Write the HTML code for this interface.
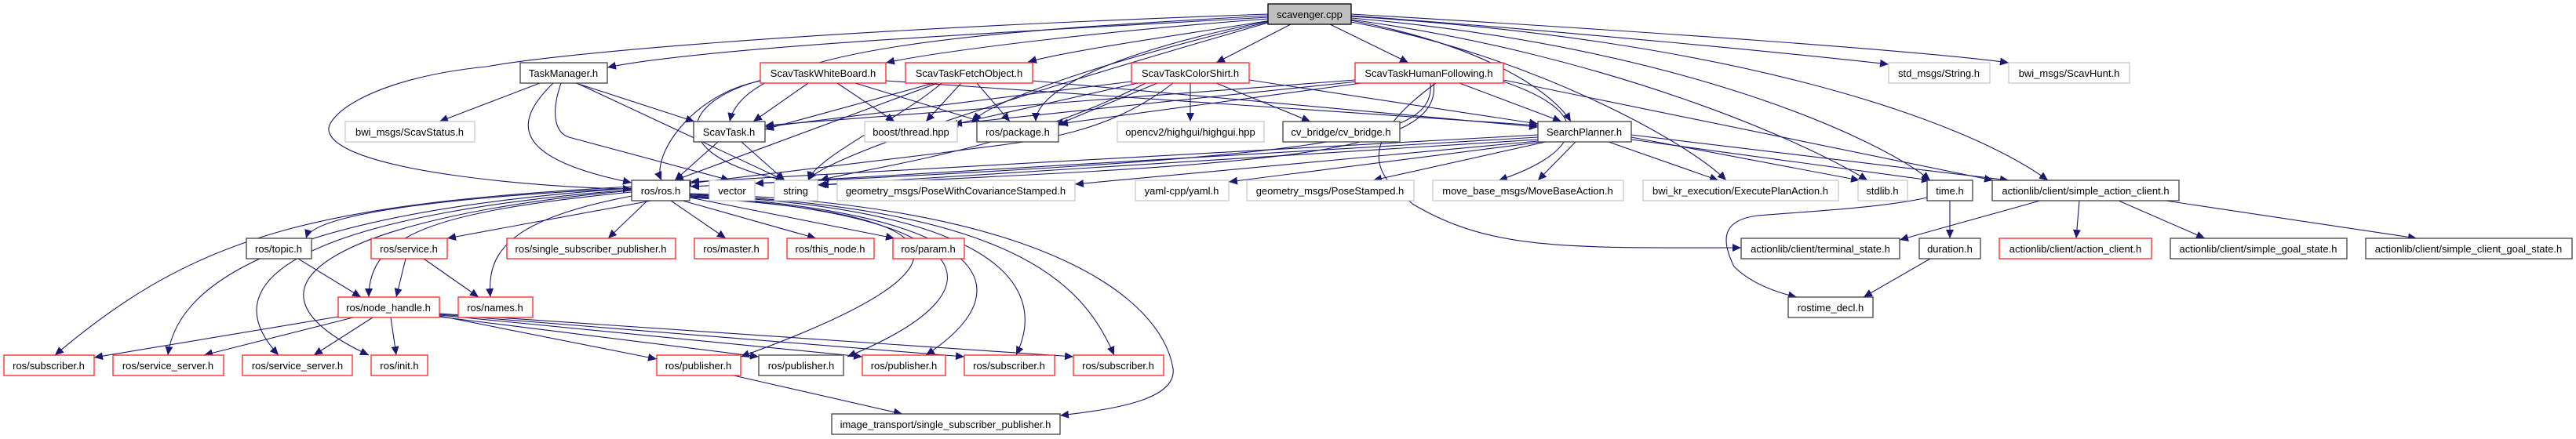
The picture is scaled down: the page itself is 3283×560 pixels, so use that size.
<!DOCTYPE html>
<html><head><meta charset="utf-8"><style>
html,body{margin:0;padding:0;background:#fff;}
svg{display:block;}
text{font-family:"Liberation Sans",Arial,sans-serif;font-size:13px;fill:#000;}
.e{fill:none;stroke:#191970;stroke-width:1.1;marker-end:url(#a);}
.b{fill:#fff;stroke:#404040;stroke-width:1.3;}
.r{fill:#fff;stroke:#ff2020;stroke-width:1.3;}
.g{fill:#fff;stroke:#c8c8c8;stroke-width:1.3;}
</style></head><body>
<svg width="3283" height="560" viewBox="0 0 3283 560" xmlns="http://www.w3.org/2000/svg">
<defs><marker id="a" markerUnits="userSpaceOnUse" markerWidth="12" markerHeight="10" refX="11" refY="5" orient="auto"><path d="M0,0 L11,5 L0,10 z" fill="#191970"/></marker></defs>
<g>
<path class="e" d="M1616,22 C1300,40 900,60 774,86"/>
<path class="e" d="M1616,24 C1400,40 1200,65 1129,80"/>
<path class="e" d="M1620,26 C1500,45 1360,65 1310,79"/>
<path class="e" d="M1645,31 L1550,80"/>
<path class="e" d="M1695,31 L1795,80"/>
<path class="e" d="M1616,20 C1250,40 950,60 930,155"/>
<path class="e" d="M1616,27 C1400,70 1320,120 1320,155"/>
<path class="e" d="M1616,28 C1400,80 1260,130 1240,155"/>
<path class="e" d="M1722,26 C1900,60 1980,120 2002,155"/>
<path class="e" d="M1722,20 C2000,40 2300,70 2407,82"/>
<path class="e" d="M1722,18 C2100,40 2450,65 2560,80"/>
<path class="e" d="M1616,18 C1000,40 700,70 620,85 C470,100 410,150 420,170 C440,220 700,240 805,241"/>
<path class="e" d="M1722,28 C1950,70 2150,180 2200,230"/>
<path class="e" d="M1722,25 C2050,70 2300,180 2380,230"/>
<path class="e" d="M1722,23 C2150,60 2400,180 2460,230"/>
<path class="e" d="M1722,21 C2200,50 2500,150 2610,230"/>
<path class="e" d="M1616,29 C1300,120 1050,200 1030,230"/>
<path class="e" d="M688,106 L560,155"/>
<path class="e" d="M734,106 L885,155"/>
<path class="e" d="M705,106 C660,150 640,200 805,233"/>
<path class="e" d="M715,106 C700,150 710,170 725,175 L930,230"/>
<path class="e" d="M735,106 L1000,230"/>
<path class="e" d="M1030,106 L960,155"/>
<path class="e" d="M1067,106 L1140,155"/>
<path class="e" d="M1090,106 L1250,155"/>
<path class="e" d="M970,103 C880,120 830,200 843,230"/>
<path class="e" d="M975,101 C860,130 850,200 1000,230"/>
<path class="e" d="M1129,103 L1960,160"/>
<path class="e" d="M1190,106 L975,165"/>
<path class="e" d="M1225,106 L1180,155"/>
<path class="e" d="M1245,106 L1287,155"/>
<path class="e" d="M1195,106 L860,230"/>
<path class="e" d="M1200,106 C1150,150 1040,200 1030,230"/>
<path class="e" d="M1316,103 L1960,162"/>
<path class="e" d="M1442,104 L975,162"/>
<path class="e" d="M1450,106 L1210,160"/>
<path class="e" d="M1475,106 L1345,160"/>
<path class="e" d="M1517,106 L1517,155"/>
<path class="e" d="M1550,106 L1670,155"/>
<path class="e" d="M1495,106 C1400,180 1300,180 1200,195 L870,235"/>
<path class="e" d="M1460,106 C1300,190 1100,215 1045,230"/>
<path class="e" d="M1592,102 L1960,158"/>
<path class="e" d="M1727,102 L975,160"/>
<path class="e" d="M1730,104 L1215,158"/>
<path class="e" d="M1735,106 L1350,158"/>
<path class="e" d="M1860,106 L1990,155"/>
<path class="e" d="M1823,106 C1830,180 1700,200 880,238"/>
<path class="e" d="M1827,106 C1840,200 1600,210 1045,236"/>
<path class="e" d="M1916,104 C2050,150 2000,200 1910,230"/>
<path class="e" d="M1916,102 L2540,230"/>
<path class="e" d="M1830,106 C1700,200 1780,240 1800,260 C1900,320 2000,316 2219,316"/>
<path class="e" d="M915,181 L860,230"/>
<path class="e" d="M945,181 L1000,230"/>
<path class="e" d="M1960,172 L880,232"/>
<path class="e" d="M1960,175 L962,234"/>
<path class="e" d="M1960,178 L1042,236"/>
<path class="e" d="M1960,180 L1370,235"/>
<path class="e" d="M1965,181 L1566,232"/>
<path class="e" d="M1970,181 L1750,230"/>
<path class="e" d="M2008,181 L1960,230"/>
<path class="e" d="M2050,181 L2190,230"/>
<path class="e" d="M2079,175 L2370,230"/>
<path class="e" d="M2079,178 L2460,230"/>
<path class="e" d="M2079,172 L2560,230"/>
<path class="e" d="M805,240 C600,250 400,270 390,304"/>
<path class="e" d="M830,256 L570,304"/>
<path class="e" d="M825,256 L775,304"/>
<path class="e" d="M855,256 L925,304"/>
<path class="e" d="M870,256 L1040,304"/>
<path class="e" d="M879,252 L1140,304"/>
<path class="e" d="M805,245 C550,270 470,300 470,379"/>
<path class="e" d="M805,250 C650,280 620,320 625,379"/>
<path class="e" d="M805,238 C400,260 250,300 70,453"/>
<path class="e" d="M805,240 C450,265 230,330 214,453"/>
<path class="e" d="M805,242 C450,270 250,340 355,453"/>
<path class="e" d="M805,243 C450,275 270,360 470,453"/>
<path class="e" d="M879,252 C1200,270 1290,330 944,455"/>
<path class="e" d="M879,251 C1220,270 1310,360 1080,455"/>
<path class="e" d="M879,250 C1240,270 1320,360 1180,453"/>
<path class="e" d="M879,249 C1260,265 1340,360 1295,453"/>
<path class="e" d="M879,248 C1290,265 1380,360 1420,453"/>
<path class="e" d="M879,247 C1330,260 1480,380 1495,470 C1500,510 1420,522 1351,530"/>
<path class="e" d="M380,330 L460,379"/>
<path class="e" d="M517,330 L505,379"/>
<path class="e" d="M540,330 L610,379"/>
<path class="e" d="M431,404 L120,456"/>
<path class="e" d="M450,405 L260,453"/>
<path class="e" d="M475,405 L400,453"/>
<path class="e" d="M498,405 L505,453"/>
<path class="e" d="M560,403 L837,458"/>
<path class="e" d="M560,404 L967,455"/>
<path class="e" d="M560,402 L1099,455"/>
<path class="e" d="M560,401 L1229,455"/>
<path class="e" d="M560,400 L1368,455"/>
<path class="e" d="M935,479 L1150,528"/>
<path class="e" d="M2600,256 L2421,306"/>
<path class="e" d="M2650,256 L2646,304"/>
<path class="e" d="M2700,256 L2810,304"/>
<path class="e" d="M2760,256 L3080,304"/>
<path class="e" d="M2485,256 L2485,304"/>
<path class="e" d="M2456,252 C2400,265 2300,270 2240,275 C2200,280 2190,300 2210,340 C2230,360 2260,372 2290,379"/>
<path class="e" d="M2460,330 L2375,379"/>
</g>
<g>
<rect x="1616" y="5" width="106" height="26" fill="#bfbfbf" stroke="#000" stroke-width="1.3"/><text x="1669" y="23" text-anchor="middle">scavenger.cpp</text>
<rect class="b" x="663" y="80" width="111" height="26"/><text x="718" y="98" text-anchor="middle">TaskManager.h</text>
<rect class="r" x="969" y="80" width="160" height="26"/><text x="1049" y="98" text-anchor="middle">ScavTaskWhiteBoard.h</text>
<rect class="r" x="1154" y="80" width="162" height="26"/><text x="1235" y="98" text-anchor="middle">ScavTaskFetchObject.h</text>
<rect class="r" x="1442" y="80" width="150" height="26"/><text x="1517" y="98" text-anchor="middle">ScavTaskColorShirt.h</text>
<rect class="r" x="1727" y="80" width="189" height="26"/><text x="1821" y="98" text-anchor="middle">ScavTaskHumanFollowing.h</text>
<rect class="g" x="2407" y="80" width="129" height="26"/><text x="2471" y="98" text-anchor="middle">std_msgs/String.h</text>
<rect class="g" x="2560" y="80" width="154" height="26"/><text x="2637" y="98" text-anchor="middle">bwi_msgs/ScavHunt.h</text>
<rect class="g" x="440" y="155" width="165" height="26"/><text x="522" y="173" text-anchor="middle">bwi_msgs/ScavStatus.h</text>
<rect class="b" x="884" y="155" width="91" height="26"/><text x="929" y="173" text-anchor="middle">ScavTask.h</text>
<rect class="g" x="1102" y="155" width="118" height="26"/><text x="1161" y="173" text-anchor="middle">boost/thread.hpp</text>
<rect class="b" x="1245" y="155" width="104" height="26"/><text x="1297" y="173" text-anchor="middle">ros/package.h</text>
<rect class="g" x="1424" y="155" width="187" height="26"/><text x="1517" y="173" text-anchor="middle">opencv2/highgui/highgui.hpp</text>
<rect class="b" x="1635" y="155" width="149" height="26"/><text x="1709" y="173" text-anchor="middle">cv_bridge/cv_bridge.h</text>
<rect class="b" x="1960" y="155" width="119" height="26"/><text x="2019" y="173" text-anchor="middle">SearchPlanner.h</text>
<rect class="b" x="805" y="230" width="74" height="26"/><text x="842" y="248" text-anchor="middle">ros/ros.h</text>
<rect class="g" x="904" y="230" width="58" height="26"/><text x="933" y="248" text-anchor="middle">vector</text>
<rect class="g" x="987" y="230" width="55" height="26"/><text x="1014" y="248" text-anchor="middle">string</text>
<rect class="g" x="1067" y="230" width="303" height="26"/><text x="1218" y="248" text-anchor="middle">geometry_msgs/PoseWithCovarianceStamped.h</text>
<rect class="g" x="1447" y="230" width="119" height="26"/><text x="1506" y="248" text-anchor="middle">yaml-cpp/yaml.h</text>
<rect class="g" x="1589" y="230" width="213" height="26"/><text x="1695" y="248" text-anchor="middle">geometry_msgs/PoseStamped.h</text>
<rect class="g" x="1826" y="230" width="243" height="26"/><text x="1947" y="248" text-anchor="middle">move_base_msgs/MoveBaseAction.h</text>
<rect class="g" x="2094" y="230" width="249" height="26"/><text x="2218" y="248" text-anchor="middle">bwi_kr_execution/ExecutePlanAction.h</text>
<rect class="g" x="2368" y="230" width="63" height="26"/><text x="2399" y="248" text-anchor="middle">stdlib.h</text>
<rect class="b" x="2456" y="230" width="58" height="26"/><text x="2485" y="248" text-anchor="middle">time.h</text>
<rect class="b" x="2539" y="230" width="238" height="26"/><text x="2658" y="248" text-anchor="middle">actionlib/client/simple_action_client.h</text>
<rect class="b" x="314" y="304" width="83" height="26"/><text x="355" y="322" text-anchor="middle">ros/topic.h</text>
<rect class="r" x="473" y="304" width="97" height="26"/><text x="521" y="322" text-anchor="middle">ros/service.h</text>
<rect class="r" x="646" y="304" width="215" height="26"/><text x="753" y="322" text-anchor="middle">ros/single_subscriber_publisher.h</text>
<rect class="r" x="885" y="304" width="94" height="26"/><text x="932" y="322" text-anchor="middle">ros/master.h</text>
<rect class="r" x="1003" y="304" width="111" height="26"/><text x="1058" y="322" text-anchor="middle">ros/this_node.h</text>
<rect class="r" x="1138" y="304" width="91" height="26"/><text x="1183" y="322" text-anchor="middle">ros/param.h</text>
<rect class="b" x="2219" y="304" width="202" height="26"/><text x="2320" y="322" text-anchor="middle">actionlib/client/terminal_state.h</text>
<rect class="b" x="2446" y="304" width="78" height="26"/><text x="2485" y="322" text-anchor="middle">duration.h</text>
<rect class="r" x="2548" y="304" width="194" height="26"/><text x="2645" y="322" text-anchor="middle">actionlib/client/action_client.h</text>
<rect class="b" x="2766" y="304" width="225" height="26"/><text x="2878" y="322" text-anchor="middle">actionlib/client/simple_goal_state.h</text>
<rect class="b" x="3015" y="304" width="263" height="26"/><text x="3146" y="322" text-anchor="middle">actionlib/client/simple_client_goal_state.h</text>
<rect class="r" x="431" y="379" width="129" height="26"/><text x="495" y="397" text-anchor="middle">ros/node_handle.h</text>
<rect class="r" x="584" y="379" width="95" height="26"/><text x="631" y="397" text-anchor="middle">ros/names.h</text>
<rect class="b" x="2279" y="379" width="108" height="26"/><text x="2333" y="397" text-anchor="middle">rostime_decl.h</text>
<rect class="r" x="5" y="453" width="115" height="26"/><text x="62" y="471" text-anchor="middle">ros/subscriber.h</text>
<rect class="r" x="144" y="453" width="141" height="26"/><text x="214" y="471" text-anchor="middle">ros/service_server.h</text>
<rect class="r" x="309" y="453" width="140" height="26"/><text x="379" y="471" text-anchor="middle">ros/service_server.h</text>
<rect class="r" x="473" y="453" width="72" height="26"/><text x="509" y="471" text-anchor="middle">ros/init.h</text>
<rect class="r" x="837" y="453" width="107" height="26"/><text x="890" y="471" text-anchor="middle">ros/publisher.h</text>
<rect class="b" x="967" y="453" width="108" height="26"/><text x="1021" y="471" text-anchor="middle">ros/publisher.h</text>
<rect class="r" x="1099" y="453" width="106" height="26"/><text x="1152" y="471" text-anchor="middle">ros/publisher.h</text>
<rect class="r" x="1229" y="453" width="115" height="26"/><text x="1286" y="471" text-anchor="middle">ros/subscriber.h</text>
<rect class="r" x="1368" y="453" width="115" height="26"/><text x="1425" y="471" text-anchor="middle">ros/subscriber.h</text>
<rect class="b" x="1060" y="528" width="291" height="26"/><text x="1205" y="546" text-anchor="middle">image_transport/single_subscriber_publisher.h</text>
</g>
</svg>
</body></html>
